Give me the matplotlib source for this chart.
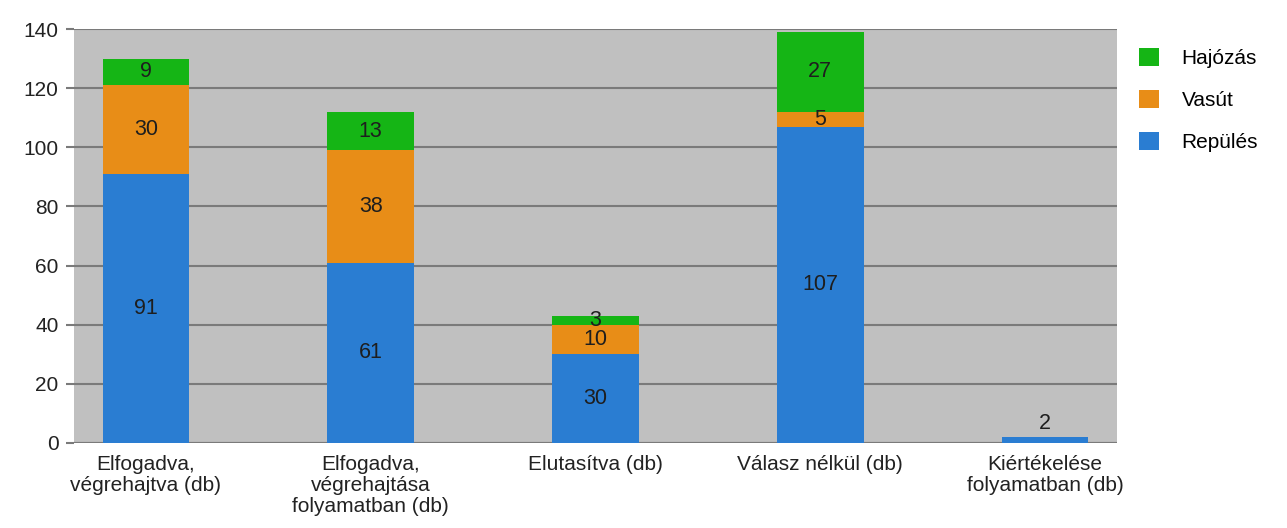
import matplotlib
matplotlib.use("Agg")
import matplotlib.pyplot as plt
import numpy as np

categories = [
    "Elfogadva,\nvégrehajtva (db)",
    "Elfogadva,\nvégrehajtása\nfolyamatban (db)",
    "Elutasítva (db)",
    "Válasz nélkül (db)",
    "Kiértékelése\nfolyamatban (db)",
]
repules = [91, 61, 30, 107, 2]
vasut = [30, 38, 10, 5, 0]
hajozas = [9, 13, 3, 27, 0]

series = [
    ("Repülés", repules, "#2a7dd2"),
    ("Vasút", vasut, "#e88d17"),
    ("Hajózás", hajozas, "#15b515"),
]

plt.rcParams["font.family"] = ["Liberation Sans", "DejaVu Sans"]

fig = plt.figure(figsize=(12.87, 5.28), dpi=100)
ax = fig.add_axes([74 / 1287, 85 / 528, (1117 - 74) / 1287, (443 - 29) / 528])
ax.set_facecolor("#c0c0c0")

x = np.arange(len(categories))
width = 0.385
bottom = np.zeros(len(categories))
handles = []
for name, vals, color in series:
    vals = np.array(vals, dtype=float)
    bars = ax.bar(x, vals, width, bottom=bottom, color=color, label=name, zorder=3)
    handles.append(bars)
    for xi, b, v in zip(x, bottom, vals):
        if v <= 0:
            continue
        if v < 4 and b == 0:
            # tiny bar on its own: label sits above it
            ax.text(xi, b + v + 1.2, f"{int(v)}", ha="center", va="bottom",
                    fontsize=15.5, color="#1e1e1e", zorder=4)
        else:
            ax.text(xi, b + v / 2, f"{int(v)}", ha="center", va="center",
                    fontsize=15.5, color="#1e1e1e", zorder=4)
    bottom += vals

ax.set_xlim(-0.32, 4.32)
ax.set_ylim(0, 140)
ax.set_yticks(range(0, 141, 20))
ax.yaxis.grid(True, color="#7a7a7a", linewidth=1.5, zorder=1)
ax.set_axisbelow(True)
for s in ax.spines.values():
    s.set_visible(False)
ax.axhline(0, color="#7a7a7a", linewidth=1.5, zorder=2)

ax.set_xticks(x)
ax.set_xticklabels(categories, fontsize=15, color="#222222", linespacing=1.12)
ax.tick_params(axis="x", length=0, pad=9)
ax.tick_params(axis="y", length=6, width=1.5, color="#7a7a7a", labelsize=15,
               labelcolor="#222222", pad=5)

fig.legend(handles[::-1], [h.get_label() for h in handles[::-1]],
           loc="upper left", bbox_to_anchor=(1120 / 1287, 1 - 29 / 528),
           frameon=False, fontsize=15, handlelength=0.95, handleheight=0.95,
           handletextpad=1.1, labelspacing=1.05)

fig.savefig("out.png", dpi=100)
